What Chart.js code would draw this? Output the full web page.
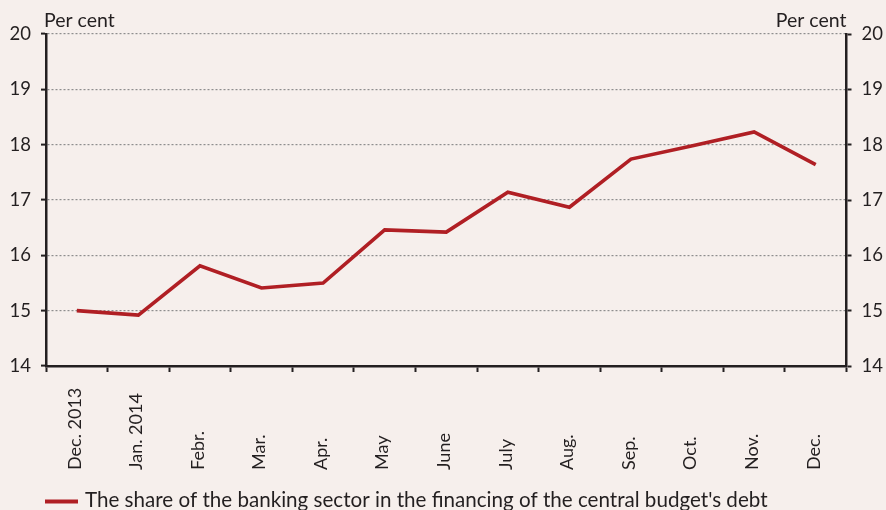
<!DOCTYPE html>
<html>
<head>
<meta charset="utf-8">
<script src="https://cdn.jsdelivr.net/npm/chart.js@4"></script>
<style>
  html, body { margin: 0; padding: 0; background: #F6EFEC; }
  #wrap { width: 886px; height: 510px; position: relative; }
</style>
</head>
<body>
<div id="wrap"><canvas id="c" width="886" height="510"></canvas></div>
<script>
const categories = ['Dec. 2013', 'Jan. 2014', 'Febr.', 'Mar.', 'Apr.', 'May', 'June', 'July', 'Aug.', 'Sep.', 'Oct.', 'Nov.', 'Dec.'];
const shareValues = [15.0, 14.92, 15.81, 15.41, 15.5, 16.46, 16.42, 17.14, 16.87, 17.74, 17.98, 18.23, 17.64];
const seriesLabel = "The share of the banking sector in the financing of the central budget's debt";
const axisTitle = 'Per cent';
const yMin = 14, yMax = 20, yStep = 1;

const FONT = 'Lato, "Open Sans", sans-serif';
const TEXT = '#231F20';
const RED = '#B01F24';

const extras = {
  id: 'extras',
  afterDraw(chart) {
    const ctx = chart.ctx;
    const xs = chart.scales.x;
    const ca = chart.chartArea;
    ctx.save();
    ctx.fillStyle = TEXT;
    // rotated category labels, starting from a common bottom line
    ctx.font = '18px ' + FONT;
    ctx.textAlign = 'left';
    ctx.textBaseline = 'middle';
    chart.data.labels.forEach((lab, i) => {
      const x = xs.getPixelForValue(i);
      ctx.save();
      ctx.translate(x - 2, 470);
      ctx.rotate(-Math.PI / 2);
      ctx.fillText(lab, 0, 0);
      ctx.restore();
    });
    // unit titles
    ctx.font = '19.5px ' + FONT;
    ctx.textBaseline = 'alphabetic';
    ctx.textAlign = 'left';
    ctx.fillText(axisTitle, ca.left - 2, 27);
    ctx.textAlign = 'right';
    ctx.fillText(axisTitle, ca.right, 27);
    // legend
    const ds = chart.data.datasets[0];
    ctx.strokeStyle = ds.borderColor;
    ctx.lineWidth = 4;
    ctx.beginPath();
    ctx.moveTo(45, 501.5);
    ctx.lineTo(78, 501.5);
    ctx.stroke();
    ctx.font = '20.6px ' + FONT;
    ctx.textAlign = 'left';
    ctx.textBaseline = 'middle';
    ctx.fillText(ds.label, 85, 500);
    ctx.restore();
  }
};

const yCommon = {
  min: yMin, max: yMax,
  ticks: { stepSize: yStep, color: TEXT, font: { family: FONT, size: 18.5 }, padding: 10 },
};

new Chart(document.getElementById('c'), {
  type: 'line',
  data: {
    labels: categories,
    datasets: [{
      label: seriesLabel,
      data: shareValues,
      borderColor: RED,
      backgroundColor: RED,
      borderWidth: 3.6,
      pointRadius: 0,
      tension: 0,
      yAxisID: 'y'
    }]
  },
  options: {
    responsive: false,
    animation: false,
    devicePixelRatio: 1,
    layout: { padding: { top: 34, bottom: 34, left: 0, right: 0 } },
    plugins: { legend: { display: false }, tooltip: { enabled: false } },
    scales: {
      x: {
        offset: true,
        ticks: { display: false },
        grid: { offset: true, drawOnChartArea: false, drawTicks: true, tickLength: 6, tickColor: TEXT, tickWidth: 2, tickBorderDash: [] },
        border: { color: TEXT, width: 2.5 },
        afterFit(s) { s.height = 110; }
      },
      y: Object.assign({}, yCommon, {
        position: 'left',
        grid: { color: '#8E8E8E', lineWidth: 1.2, drawTicks: true, tickLength: 5, tickColor: TEXT, tickWidth: 2, tickBorderDash: [] },
        border: { color: TEXT, width: 2.5, dash: [2, 2] },
        afterFit(s) { s.width = 46; }
      }),
      y2: Object.assign({}, yCommon, {
        position: 'right',
        grid: { drawOnChartArea: false, drawTicks: true, tickLength: 5, tickColor: TEXT, tickWidth: 2 },
        border: { color: TEXT, width: 2.5 },
        afterFit(s) { s.width = 39.5; }
      })
    }
  },
  plugins: [extras]
});
</script>
</body>
</html>
